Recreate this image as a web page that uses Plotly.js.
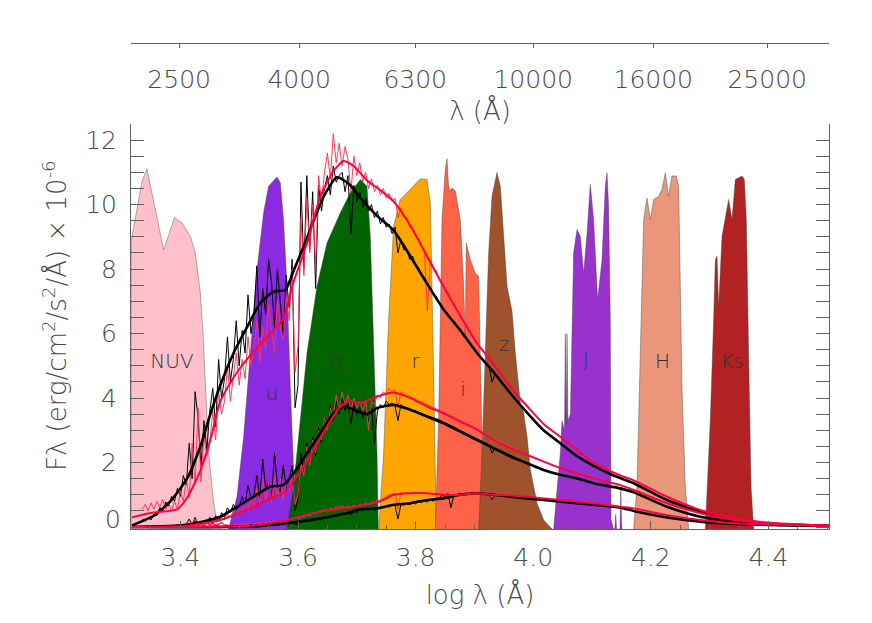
<!DOCTYPE html>
<html><head><meta charset="utf-8">
<script src="https://cdn.plot.ly/plotly-3.0.1.min.js"></script>
<style>html,body{margin:0;padding:0;background:#fff;} #chart{width:872px;height:623px;}</style>
</head><body><div id="chart"></div>
<script>
// ---------------- DATA ----------------
// Filter transmission curves (scaled to plot units), x = log10(lambda/Å)
const filterNames = ['NUV','u','g','r','i','z','J','H','Ks'];
const nuvLogLam = [3.316,3.316,3.3347,3.3432,3.3714,3.3901,3.4027,3.4169,3.4254,3.4339,3.4385,3.4424,3.4480,3.4565,3.4623,3.4679];
const nuvTrans  = [-0.06,8.82,10.73,11.11,8.6,9.6,9.43,9.02,8.5,7.27,6.0,4.37,2.3,0.75,0.17,-0.06];
const uLogLam = [3.482,3.4963,3.5075,3.5189,3.5303,3.5415,3.5500,3.5643,3.5699,3.5755,3.5813,3.5869,3.5925,3.5954,3.5983];
const uTrans  = [-0.06,0.95,2.8,5.4,7.98,9.75,10.57,10.86,10.68,9.5,7.47,4.36,1.78,0.44,-0.06];
const gLogLam = [3.5813,3.5925,3.6039,3.6153,3.6323,3.6493,3.672,3.689,3.706,3.7173,3.723,3.7286,3.7344,3.7366];
const gTrans  = [-0.06,1.27,3.33,5.4,7.47,8.81,9.75,10.37,10.78,10.57,9.02,5.4,2.3,-0.06];
const rLogLam = [3.7371,3.7456,3.7541,3.7626,3.774,3.791,3.808,3.8194,3.825,3.8279,3.8306,3.8335,3.8352];
const rTrans  = [-0.06,2.29,6.43,9.33,10.16,10.47,10.8,10.78,10.06,7.47,4.36,1.27,-0.06];
const iLogLam = [3.8335,3.8391,3.8420,3.8449,3.8505,3.8534,3.8561,3.8590,3.8619,3.8675,3.8760,3.8817,3.8845,3.8862,3.8930,3.9015,3.9072,3.9100,3.9129,3.9157,3.9185];
const iTrans  = [-0.06,3.33,6.43,9.54,11.09,11.42,10.57,10.42,10.52,10.42,9.54,7.47,5.92,8.81,8.29,7.88,7.78,5.4,2.29,0.22,-0.06];
const zLogLam = [3.9072,3.9129,3.9185,3.9242,3.9299,3.9384,3.9441,3.9497,3.9555,3.9640,3.9696,3.9781,3.9837,3.9895,3.9951,4.0065,4.0177,4.0320];
const zTrans  = [-0.06,2.29,5.4,8.5,10.26,11.0,10.57,9.02,7.47,6.69,5.4,3.85,3.54,2.81,1.78,0.74,0.22,-0.06];
const jLogLam = [4.0347,4.0461,4.049,4.0532,4.0546,4.0561,4.0575,4.059,4.0632,4.066,4.0687,4.0745,4.0801,4.0858,4.0915,4.0971,4.1027,4.1095,4.117,4.1226,4.1255,4.1282,4.1311,4.1323,4.1367,4.1388,4.1403,4.1418,4.1475,4.149,4.1505];
const jTrans  = [-0.06,2.3,3.3,3.0,6.0,3.2,6.0,3.3,3.5,6.4,8.5,9.23,9.02,7.88,9.1,10.63,9.54,7.05,8.29,10.57,10.99,9.95,6.43,0.22,-0.06,-0.06,0.4,-0.06,-0.06,1.25,-0.06];
const hLogLam = [4.1708,4.1765,4.1821,4.1878,4.1935,4.1992,4.2048,4.2133,4.219,4.2246,4.2303,4.236,4.2433,4.2473,4.2501,4.253,4.2586,4.2643];
const hTrans  = [-0.06,1.27,5.4,9.54,10.2,9.54,10.16,10.26,10.47,10.99,10.26,10.89,10.89,10.57,7.47,4.36,1.27,-0.06];
const ksLogLam = [4.2927,4.3012,4.3068,4.3097,4.3126,4.3153,4.3211,4.3267,4.3323,4.3381,4.3437,4.3493,4.3551,4.3590,4.3624,4.3663,4.3704,4.3748];
const ksTrans  = [-0.06,3.33,6.43,8.29,8.4,6.84,9.02,9.64,10.16,9.54,10.78,10.83,10.89,10.78,9.54,5.4,1.27,-0.06];

// Filter label anchor points (data coordinates)
const filterLabelLogLam = [3.3857,3.5558,3.6651,3.800,3.8806,3.951,4.0898,4.2201,4.3381];
const filterLabelFlux   = [5.10,4.10,5.10,5.10,4.23,5.62,5.16,5.10,5.10];

// Axis ticks
const topTickLambda = [2500,4000,6300,10000,16000,25000];
const topTickText   = ['2500','4000','6300','10000','16000','25000'];
const fluxTickVals  = [0,2,4,6,8,10,12];
const fluxTickText  = ['','2','4','6','8','10','12'];   // "0" is drawn slightly raised, as in the original

// Smoothed model spectra (flux in 1e-6 units)
const topBlackLogLam = [3.3177,3.3544,3.3828,3.4112,3.4339,3.4509,3.4679,3.4905,3.5133,3.5359,3.5585,3.5784,3.5925,3.6095,3.6265,3.6436,3.6663,3.689,3.706,3.7344,3.7626,3.791,3.8194,3.8476,3.876,3.9044,3.9327,3.9611,3.9895,4.0177,4.0461,4.0745,4.1027,4.1367,4.1708,4.2276,4.2841,4.3408,4.3976,4.503];
const topBlackFlux   = [0.05,0.35,0.8,1.5,2.5,3.5,4.4,5.4,6.2,6.95,7.3,7.35,7.95,8.7,9.5,10.25,10.85,10.6,10.2,9.65,9.2,8.4,7.55,6.75,6.1,5.4,4.8,4.15,3.55,3.0,2.6,2.2,1.9,1.6,1.36,0.84,0.48,0.22,0.1,0.04];
const topRedLogLam = [3.3177,3.3544,3.3942,3.4112,3.4339,3.4509,3.4679,3.4963,3.5245,3.5529,3.5755,3.5925,3.6153,3.6379,3.6606,3.6776,3.6946,3.7173,3.7398,3.7626,3.791,3.8194,3.8476,3.876,3.9044,3.9327,3.9611,3.9895,4.0177,4.0461,4.0745,4.1027,4.148,4.1708,4.2276,4.2841,4.3408,4.3976,4.503];
const topRedFlux   = [0.3,0.45,0.55,0.9,1.75,2.7,3.9,4.8,5.45,6.0,6.5,7.6,8.8,10.25,11.05,11.35,11.2,10.75,10.45,10.1,9.35,8.4,7.45,6.55,5.7,5.05,4.35,3.75,3.2,2.8,2.4,2.0,1.6,1.45,0.94,0.53,0.27,0.14,0.04];
const midBlackLogLam = [3.3177,3.4112,3.4679,3.4963,3.5245,3.5529,3.5755,3.5925,3.6153,3.6379,3.6606,3.6776,3.6946,3.7173,3.7344,3.7626,3.791,3.8194,3.8476,3.876,3.9044,3.9327,3.9611,3.9895,4.0177,4.0461,4.0745,4.1027,4.148,4.1708,4.2276,4.2841,4.3408,4.3976,4.503];
const midBlackFlux   = [0.0,0.07,0.32,0.63,0.94,1.25,1.31,1.67,2.29,2.91,3.53,3.74,3.64,3.5,3.69,3.79,3.64,3.43,3.22,2.96,2.7,2.45,2.19,1.98,1.77,1.62,1.51,1.36,1.2,1.08,0.63,0.32,0.17,0.08,0.04];
const midRedLogLam = [3.3177,3.4112,3.4679,3.5245,3.5529,3.5755,3.5983,3.6265,3.6493,3.672,3.689,3.706,3.7344,3.7626,3.791,3.8194,3.8476,3.876,3.9044,3.9327,3.9611,3.9895,4.0177,4.0461,4.0745,4.1027,4.148,4.1708,4.2276,4.2841,4.3408,4.3976,4.503];
const midRedFlux   = [0.0,0.04,0.22,0.63,0.89,1.05,1.57,2.4,3.12,3.74,3.9,3.84,4.05,4.17,4.0,3.74,3.53,3.27,3.02,2.7,2.45,2.24,2.03,1.83,1.67,1.51,1.3,1.15,0.74,0.43,0.22,0.12,0.04];
const lowBlackLogLam = [3.3177,3.5245,3.5813,3.6379,3.6833,3.706,3.7344,3.7626,3.791,3.8194,3.8476,3.876,3.9044,3.9327,3.9611,3.9895,4.0461,4.1027,4.148,4.1708,4.2276,4.2841,4.3408,4.503];
const lowBlackFlux   = [0.0,0.02,0.12,0.27,0.43,0.55,0.58,0.69,0.74,0.84,0.89,1.0,1.05,1.0,0.94,0.89,0.79,0.69,0.6,0.5,0.3,0.17,0.1,0.04];
const lowRedLogLam = [3.3177,3.5245,3.5813,3.6379,3.6946,3.7398,3.7626,3.791,3.8194,3.8476,3.876,3.9044,3.9327,3.9611,3.9895,4.0461,4.1027,4.148,4.1708,4.2276,4.2841,4.3408,4.503];
const lowRedFlux   = [0.0,0.05,0.22,0.48,0.63,0.8,1.0,1.05,1.05,1.0,1.0,1.05,1.0,0.98,0.94,0.84,0.74,0.63,0.58,0.37,0.22,0.12,0.04];

// Observed (noisy) spectra on a common log-lambda grid
const noisyLogLam = [3.335,3.340,3.345,3.350,3.355,3.360,3.365,3.370,3.375,3.380,
 3.385,3.390,3.395,3.400,3.405,3.410,3.415,3.420,3.425,3.430,
 3.435,3.440,3.445,3.450,3.455,3.460,3.465,3.470,3.475,3.480,
 3.485,3.490,3.495,3.500,3.505,3.510,3.515,3.520,3.525,3.530,
 3.535,3.540,3.545,3.550,3.555,3.560,3.565,3.570,3.575,3.580,
 3.585,3.590,3.595,3.600,3.605,3.610,3.615,3.620,3.625,3.630,
 3.635,3.640,3.645,3.650,3.655,3.660,3.665,3.670,3.675,3.680,
 3.685,3.690,3.695,3.700,3.705,3.710,3.715,3.720,3.725,3.730,
 3.735,3.740,3.745,3.750,3.755,3.760,3.765,3.770,3.775,3.780,
 3.785,3.790,3.795,3.800,3.805,3.810,3.815,3.820,3.825,3.830,
 3.835,3.840,3.845,3.850,3.855,3.860,3.865,3.870,3.875,3.880,
 3.885,3.890,3.895,3.900,3.905,3.910,3.915,3.920,3.925,3.930,
 3.935,3.940,3.945,3.950,3.955,3.960,3.965,3.970,3.975,3.980,
 3.985,3.990];
const topBlackObs = [0.25,0.18,0.3,0.22,0.4,0.36,0.6,0.5,0.78,0.65,
 0.95,0.8,1.2,0.95,1.6,1.3,2.6,1.5,4.2,3.4,
 1.9,3.3,2.4,3.6,4.3,3.1,5.2,4.0,4.6,5.9,
 4.5,5.2,6.4,5.0,6.1,5.4,7.2,6.0,6.6,8.1,
 5.9,7.4,6.6,8.3,7.6,6.2,8.0,7.0,5.9,7.8,
 6.8,8.3,3.7,4.4,10.7,8.0,10.9,8.6,10.4,7.4,
 10.6,9.8,10.5,10.9,10.3,11.2,10.7,10.9,11.0,10.4,
 10.9,9.1,10.6,10.1,10.4,9.9,10.2,9.8,10.0,9.6,
 9.8,9.4,9.6,9.3,9.4,9.1,9.3,8.5,8.9,8.6,
 8.6,8.3,8.4,8.1,8.05,7.8,7.75,7.5,7.45,7.2,
 7.15,6.95,6.85,6.7,6.62,6.47,6.4,6.24,6.16,6.0,
 5.9,5.74,5.66,5.5,5.41,5.26,5.2,5.05,4.98,4.5,
 4.75,4.62,4.54,4.38,4.3,4.16,4.08,3.95,3.87,3.74,
 3.66,3.55];
const topRedObs = [0.55,0.7,0.5,0.75,0.55,0.8,0.6,0.85,0.55,0.75,
 0.5,0.8,0.55,1.1,0.8,1.5,0.9,2.6,1.3,3.7,
 1.4,2.8,2.2,2.6,3.6,2.7,4.2,3.5,3.9,5.0,
 3.9,4.6,5.4,4.4,5.2,4.6,5.9,5.0,5.5,6.4,
 5.1,6.2,5.5,6.9,6.1,5.4,7.0,6.2,5.8,7.2,
 6.4,8.0,4.8,5.6,9.6,7.8,10.2,8.5,10.0,8.1,
 10.9,10.1,11.0,11.6,10.8,12.2,11.3,11.9,11.2,11.8,
 11.4,10.4,11.5,10.9,11.3,10.7,11.0,10.5,10.8,10.4,
 10.6,10.3,10.5,10.2,10.35,10.1,10.2,9.6,9.9,9.6,
 9.6,9.3,9.3,9.0,8.95,8.7,8.6,6.7,8.3,8.05,
 7.95,7.7,7.6,7.35,7.3,7.05,6.95,6.7,6.6,6.4,
 6.35,6.1,6.0,5.8,5.75,5.55,5.5,5.3,5.25,4.9,
 5.0,4.85,4.8,4.6,4.55,4.35,4.3,4.1,4.05,3.9,
 3.85,3.75];
const midBlackObs = [0.02,0.0,0.03,0.01,0.02,0.0,0.03,0.02,0.04,0.03,
 0.05,0.03,0.08,0.04,0.06,0.1,0.25,0.08,0.3,0.1,
 0.12,0.2,0.1,0.3,0.15,0.35,0.2,0.45,0.3,0.6,
 0.45,0.7,0.55,0.6,0.95,0.7,1.3,0.9,1.0,1.6,
 0.9,2.1,1.2,1.4,0.8,2.3,1.3,1.1,1.9,1.2,
 1.5,1.9,0.5,0.9,2.3,1.7,2.6,1.9,2.8,2.2,
 3.1,2.6,3.4,3.0,3.8,3.3,3.9,3.5,4.0,3.6,
 3.9,3.2,3.8,3.5,3.7,3.4,3.6,3.3,3.7,2.6,
 3.6,3.8,3.7,3.9,3.8,3.85,3.75,3.3,3.8,3.7,
 3.7,3.65,3.6,3.6,3.55,3.52,3.48,3.45,3.42,3.4,
 3.36,3.33,3.28,3.24,3.2,3.15,3.1,3.06,3.0,2.96,
 2.92,2.87,2.83,2.78,2.73,2.68,2.64,2.6,2.55,2.3,
 2.45,2.4,2.37,2.33,2.28,2.24,2.2,2.16,2.12,2.08,
 2.03,1.98];
const midRedObs = [0.02,0.04,0.01,0.03,0.02,0.04,0.02,0.03,0.05,0.03,
 0.04,0.06,0.05,0.08,0.06,0.1,0.2,0.08,0.25,0.12,
 0.1,0.18,0.12,0.2,0.15,0.28,0.18,0.3,0.22,0.4,
 0.3,0.5,0.35,0.6,0.45,0.8,0.5,0.95,0.6,1.2,
 0.7,1.5,0.8,1.4,0.75,1.6,0.9,1.5,0.85,1.4,
 1.1,1.6,0.7,1.0,2.0,1.6,2.5,1.9,2.7,2.3,
 3.0,2.7,3.4,3.0,3.7,3.4,4.1,3.6,4.2,3.8,
 4.1,3.6,4.0,3.7,3.9,3.6,3.9,3.0,3.9,3.8,
 4.1,4.0,4.2,4.1,4.3,4.2,4.25,3.7,4.2,4.1,
 4.1,4.05,4.0,3.95,3.92,3.88,3.84,3.8,3.76,3.72,
 3.68,3.64,3.6,3.55,3.5,3.45,3.42,3.36,3.32,3.27,
 3.22,3.18,3.13,3.08,3.04,2.98,2.93,2.88,2.82,2.6,
 2.7,2.67,2.62,2.58,2.54,2.5,2.45,2.42,2.38,2.33,
 2.29,2.24];
const lowBlackObs = [0.02,0.0,0.02,0.01,0.02,0.0,0.02,0.01,0.03,0.01,
 0.02,0.05,0.03,0.02,0.06,0.03,0.12,0.04,0.2,0.05,
 0.1,0.04,0.15,0.06,0.12,0.05,0.08,0.15,0.06,0.05,
 0.04,0.06,0.03,0.05,0.04,0.06,0.05,0.08,0.05,0.09,
 0.06,0.1,0.07,0.12,0.08,0.13,0.09,0.12,0.1,0.14,
 0.12,0.15,0.08,0.1,0.17,0.16,0.2,0.18,0.24,0.2,
 0.28,0.25,0.32,0.27,0.36,0.32,0.4,0.36,0.44,0.4,
 0.46,0.38,0.5,0.45,0.55,0.5,0.58,0.52,0.6,0.5,
 0.58,0.62,0.6,0.66,0.62,0.7,0.66,0.25,0.7,0.68,
 0.74,0.7,0.76,0.72,0.8,0.76,0.82,0.78,0.85,0.8,
 0.9,0.86,1.0,0.92,1.05,0.6,0.98,1.0,1.05,1.0,
 1.06,1.03,1.07,1.04,1.06,1.02,1.04,1.0,1.02,0.85,
 1.0,0.98,0.99,0.96,0.97,0.94,0.95,0.92,0.93,0.9,
 0.9,0.89];
const lowRedObs = [0.03,0.01,0.02,0.04,0.02,0.03,0.01,0.03,0.02,0.04,
 0.03,0.05,0.04,0.03,0.07,0.04,0.1,0.05,0.15,0.06,
 0.08,0.05,0.12,0.07,0.1,0.06,0.09,0.12,0.07,0.06,
 0.05,0.07,0.06,0.08,0.07,0.1,0.08,0.12,0.09,0.14,
 0.1,0.16,0.12,0.18,0.14,0.2,0.16,0.22,0.18,0.24,
 0.22,0.28,0.15,0.2,0.32,0.3,0.38,0.35,0.44,0.4,
 0.5,0.46,0.55,0.5,0.6,0.55,0.65,0.6,0.66,0.6,
 0.66,0.58,0.68,0.62,0.72,0.66,0.76,0.7,0.8,0.74,
 0.85,0.82,0.9,0.95,1.0,1.02,1.05,0.55,1.08,1.03,
 1.07,1.04,1.08,1.05,1.07,1.04,1.06,1.03,1.05,1.02,
 1.03,1.0,1.02,0.99,1.01,0.98,1.0,0.99,1.01,1.0,
 1.04,1.02,1.06,1.03,1.05,1.02,1.03,1.0,1.01,0.9,
 1.0,0.98,0.99,0.97,0.98,0.96,0.97,0.95,0.96,0.94,
 0.95,0.94];

// ---------------- STYLE ----------------
const filterColor = {NUV:'#FFC0CB', u:'#8A2BE2', g:'#006400', r:'#FFA500', i:'#FF6347',
                     z:'#A0522D', J:'#9932CC', H:'#E9967A', Ks:'#B22222'};
const filterData = {
  NUV:[nuvLogLam,nuvTrans], u:[uLogLam,uTrans], g:[gLogLam,gTrans], r:[rLogLam,rTrans],
  i:[iLogLam,iTrans], z:[zLogLam,zTrans], J:[jLogLam,jTrans], H:[hLogLam,hTrans], Ks:[ksLogLam,ksTrans]
};
const FONT = 'DejaVu Sans ExtraLight, DejaVu Sans Light, DejaVu Sans';
const TXT = '#4a4a4a';
const AX = '#606060';

const traces = [];
filterNames.forEach(n => {
  traces.push({type:'scatter', mode:'lines', x:filterData[n][0], y:filterData[n][1],
    fill:'toself', fillcolor:filterColor[n],
    line:{color:'rgba(60,60,60,0.5)', width:0.8}, hoverinfo:'skip', showlegend:false});
});
const blackThin = {color:'#000', width:1};
const redThin = {color:'rgba(255,50,85,0.95)', width:1};
const blackThick = {color:'#000', width:2.6};
const redThick = {color:'#FF0040', width:2};
[lowBlackObs, midBlackObs, topBlackObs].forEach(y => traces.push({type:'scatter', mode:'lines', x:noisyLogLam, y:y, line:blackThin, hoverinfo:'skip', showlegend:false}));
[lowRedObs, midRedObs, topRedObs].forEach(y => traces.push({type:'scatter', mode:'lines', x:noisyLogLam, y:y, line:redThin, hoverinfo:'skip', showlegend:false}));
[[lowBlackLogLam,lowBlackFlux],[midBlackLogLam,midBlackFlux],[topBlackLogLam,topBlackFlux]].forEach(d =>
  traces.push({type:'scatter', mode:'lines', x:d[0], y:d[1], line:Object.assign({shape:'spline', smoothing:0.6}, blackThick), hoverinfo:'skip', showlegend:false}));
[[lowRedLogLam,lowRedFlux],[midRedLogLam,midRedFlux],[topRedLogLam,topRedFlux]].forEach(d =>
  traces.push({type:'scatter', mode:'lines', x:d[0], y:d[1], line:Object.assign({shape:'spline', smoothing:0.6}, redThick), hoverinfo:'skip', showlegend:false}));
// filter labels
traces.push({type:'scatter', mode:'text', x:filterLabelLogLam, y:filterLabelFlux, text:filterNames,
  textposition:'middle center', textfont:{family:FONT, size:20, color:'#333'},
  hoverinfo:'skip', showlegend:false});
// invisible trace to carry the top (wavelength) axis
traces.push({type:'scatter', mode:'markers', x:topTickLambda.map(v=>Math.log10(v)), y:topTickLambda.map(()=>0),
  xaxis:'x2', marker:{opacity:0}, hoverinfo:'skip', showlegend:false});

const tickFont = {family:FONT, size:25, color:TXT};
const titleFont = {family:FONT, size:26, color:TXT};
const layout = {
  width:872, height:623,
  margin:{l:131, r:43, t:43, b:94},
  paper_bgcolor:'#fff', plot_bgcolor:'rgba(0,0,0,0)',
  showlegend:false,
  xaxis:{range:[3.316,4.503], tick0:3.4, dtick:0.2, tickformat:'.1f',
    ticks:'inside', ticklen:8, tickwidth:1, tickcolor:AX,
    minor:{dtick:0.05, ticks:'inside', ticklen:4, tickcolor:AX, tickwidth:1},
    showline:true, linecolor:AX, linewidth:1, mirror:false,
    showgrid:false, zeroline:false, tickfont:tickFont, ticklabelstandoff:6,
    title:{text:'log λ (Å)', font:titleFont, standoff:14}},
  xaxis2:{overlaying:'x', anchor:'free', position:1, side:'bottom',
    range:[3.316,4.503], tickmode:'array', tickvals:topTickLambda.map(v=>Math.log10(v)), ticktext:topTickText,
    ticks:'outside', ticklen:4, tickwidth:1, tickcolor:AX,
    showline:true, linecolor:AX, linewidth:1, showgrid:false, zeroline:false,
    tickfont:tickFont, ticklabelstandoff:10,
    title:{text:'λ (Å)', font:titleFont, standoff:0}},
  yaxis:{domain:[0,0.8333], range:[-0.06,12.5], tickmode:'array', tickvals:fluxTickVals, ticktext:fluxTickText,
    ticks:'inside', ticklen:13, tickwidth:1, tickcolor:AX,
    minor:{dtick:0.5, tick0:0, ticks:'inside', ticklen:7, tickcolor:AX, tickwidth:1},
    showline:true, linecolor:AX, linewidth:1, mirror:'allticks',
    showgrid:false, zeroline:false, tickfont:tickFont, ticklabelstandoff:8},
  annotations:[
    {xref:'paper', yref:'paper', x:-0.1089, y:0.4403, xanchor:'center', yanchor:'middle',
     textangle:-90, showarrow:false, font:titleFont,
     text:'Fλ (erg/cm<sup>2</sup>/s<sup>2</sup>/Å) × 10<sup>-6</sup>'},
    {xref:'paper', yref:'y', x:0, y:0.22, xanchor:'right', yanchor:'middle', xshift:-8,
     showarrow:false, font:tickFont, text:'0'}
  ]
};
Plotly.newPlot('chart', traces, layout, {staticPlot:true, displayModeBar:false});
</script></body></html>
